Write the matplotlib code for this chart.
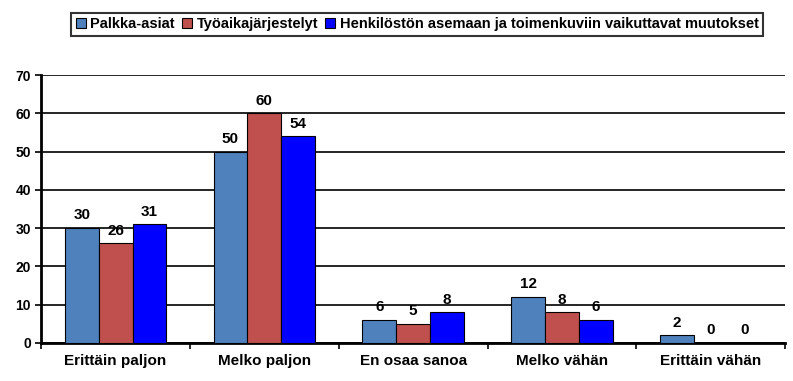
import numpy as np
import matplotlib
matplotlib.use("Agg")
from matplotlib import pyplot as plt

plt.rcParams['font.family'] = ['Liberation Sans', 'DejaVu Sans']

categories = ["Erittäin paljon", "Melko paljon", "En osaa sanoa", "Melko vähän", "Erittäin vähän"]
series_names = ["Palkka-asiat", "Työaikajärjestelyt", "Henkilöstön asemaan ja toimenkuviin vaikuttavat muutokset"]
palkka = [30, 50, 6, 12, 2]
tyoaika = [26, 60, 5, 8, 0]
henkilosto = [31, 54, 8, 6, 0]
colors = ["#4f81bd", "#c0504d", "#0000ff"]

fig = plt.figure(figsize=(7.93, 3.81), dpi=100)
ax = fig.add_axes([0.052, 0.10, 0.938, 0.703])

x = np.arange(len(categories))
w = 0.228
for i, (vals, name, c) in enumerate(zip([palkka, tyoaika, henkilosto], series_names, colors)):
    pos = x + (i - 1) * w
    ax.bar(pos, vals, w, color=c, edgecolor="black", linewidth=0.8, label=name, zorder=3)
    for p, v in zip(pos, vals):
        ax.text(p, v + 1.5, str(v), ha="center", va="bottom", fontsize=11, fontweight="bold", zorder=4)

ax.set_xlim(-0.5, len(categories) - 0.5)
ax.set_ylim(0, 70)
ax.set_yticks(range(0, 71, 10))
ax.yaxis.grid(True, color="black", linewidth=1.2, zorder=0)
ax.set_xticks(x)
ax.set_xticklabels(categories, fontsize=11, fontweight="bold")
ax.set_xticks(np.arange(-0.5, len(categories)), minor=True)
ax.tick_params(axis="x", which="major", length=0, pad=8)
ax.tick_params(axis="x", which="minor", length=4, width=1.2)
ax.tick_params(axis="y", labelsize=10, width=1.2, length=4)
for lab in ax.get_yticklabels():
    lab.set_fontweight("bold")
for s in ["top", "right"]:
    ax.spines[s].set_visible(False)
ax.spines["left"].set_linewidth(2)
ax.spines["bottom"].set_linewidth(2)

leg = fig.legend(loc="upper center", bbox_to_anchor=(0.526, 0.985), ncol=3,
                 frameon=True, fancybox=False, edgecolor="black", handlelength=0.7,
                 handleheight=0.7, handletextpad=0.3, columnspacing=0.5, borderpad=0.3,
                 prop={"weight": "bold", "size": 10.5})
leg.get_frame().set_linewidth(1.5)

fig.savefig("out.png", dpi=100)
